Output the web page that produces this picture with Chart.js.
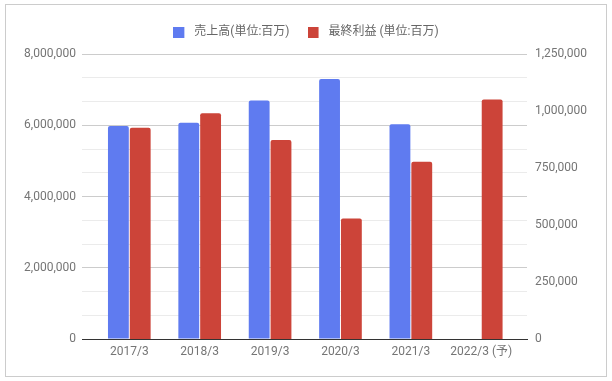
<!DOCTYPE html>
<html>
<head>
<meta charset="utf-8">
<script src="https://cdn.jsdelivr.net/npm/chart.js@4/dist/chart.umd.min.js"></script>
<style>
html,body{margin:0;padding:0;background:#fff;}
#wrap{position:relative;width:612px;height:381px;overflow:hidden;}
#frame{position:absolute;left:5px;top:4px;width:600px;height:371px;border:1px solid #cccccc;}
#c{position:absolute;left:0;top:0;}
</style>
</head>
<body>
<div id="wrap"><div id="frame"></div><canvas id="c" width="612" height="381"></canvas></div>
<script>
// ---- data ----
const categories = ['2017/3', '2018/3', '2019/3', '2020/3', '2021/3', '2022/3 (予)'];
const salesLabel = '売上高(単位:百万)';
const profitLabel = '最終利益 (単位:百万)';
const salesValues = [5980000, 6068000, 6697000, 7299000, 6025000, null];
const profitValues = [926000, 990000, 873000, 528000, 777000, 1050000];
const leftTickLabels = ['0', '2,000,000', '4,000,000', '6,000,000', '8,000,000'];
const rightTickLabels = ['0', '250,000', '500,000', '750,000', '1,000,000', '1,250,000'];
const seriesColors = ['#5f7bf0', '#cc4439'];

const FONT = 'Roboto, "Noto Sans CJK JP", sans-serif';
const toPoints = vals => vals.map((v, i) => ({x: i, y: v}));

// legend swatch: 11x11 square on the left of a 15px wide transparent box
function swatch(color) {
  const cv = document.createElement('canvas');
  cv.width = 15; cv.height = 11;
  const g = cv.getContext('2d');
  g.fillStyle = color;
  g.fillRect(0, 0, 11, 11);
  return cv;
}
const swatches = seriesColors.map(swatch);

const legendSpace = {
  id: 'legendSpace',
  beforeUpdate(chart) {
    const lg = chart.legend;
    if (lg && !lg._patched) {
      const f = lg.fit;
      lg.fit = function () { f.call(this); this.height += 6; };
      lg._patched = true;
    }
  }
};

new Chart(document.getElementById('c'), {
  type: 'bar',
  data: {
    datasets: [
      {
        label: salesLabel,
        data: toPoints(salesValues),
        backgroundColor: seriesColors[0],
        yAxisID: 'y',
        barPercentage: 0.955,
        categoryPercentage: 0.62,
        borderRadius: 2,
        borderSkipped: 'start'
      },
      {
        label: profitLabel,
        data: toPoints(profitValues),
        backgroundColor: seriesColors[1],
        yAxisID: 'y1',
        barPercentage: 0.955,
        categoryPercentage: 0.62,
        borderRadius: 2,
        borderSkipped: 'start'
      }
    ]
  },
  plugins: [legendSpace],
  options: {
    responsive: false,
    devicePixelRatio: 1,
    animation: false,
    layout: {padding: {top: 8, left: 0, right: 0, bottom: 0}},
    plugins: {
      tooltip: {enabled: false},
      legend: {
        position: 'top',
        labels: {
          usePointStyle: true,
          pointStyleWidth: 15,
          boxHeight: 11,
          padding: 18,
          color: '#666666',
          font: {family: FONT, size: 12},
          generateLabels: chart => {
            const items = Chart.defaults.plugins.legend.labels.generateLabels(chart);
            items.forEach((it, i) => { it.pointStyle = swatches[i]; it.lineWidth = 0; });
            return items;
          }
        }
      }
    },
    scales: {
      x: {
        type: 'linear',
        offset: false,
        min: -0.672,
        max: 5.65,
        grid: {display: false, drawTicks: false},
        border: {display: true, color: '#333333', width: 1},
        ticks: {
          stepSize: 1,
          includeBounds: false,
          autoSkip: false,
          maxRotation: 0,
          padding: 6,
          color: '#757575',
          font: {family: FONT, size: 12},
          callback: v => categories[v] ?? ''
        },
        afterFit: s => { s.height = 42; }
      },
      y: {
        position: 'left',
        min: 0,
        max: 8000000,
        grid: {
          drawTicks: false,
          color: c => (c.index % 3 === 0 ? '#cccccc' : '#ebebeb')
        },
        border: {display: false},
        ticks: {
          count: 13,
          padding: 6,
          color: '#757575',
          font: {family: FONT, size: 12},
          callback: (v, i) => (i % 3 === 0 ? leftTickLabels[i / 3] : '')
        },
        afterFit: s => { s.width = 82; }
      },
      y1: {
        position: 'right',
        min: 0,
        max: 1250000,
        grid: {display: false, drawTicks: false},
        border: {display: false},
        ticks: {
          stepSize: 250000,
          padding: 8,
          color: '#757575',
          font: {family: FONT, size: 12},
          callback: (v, i) => rightTickLabels[i]
        },
        afterFit: s => { s.width = 85; }
      }
    }
  }
});
</script>
</body>
</html>
